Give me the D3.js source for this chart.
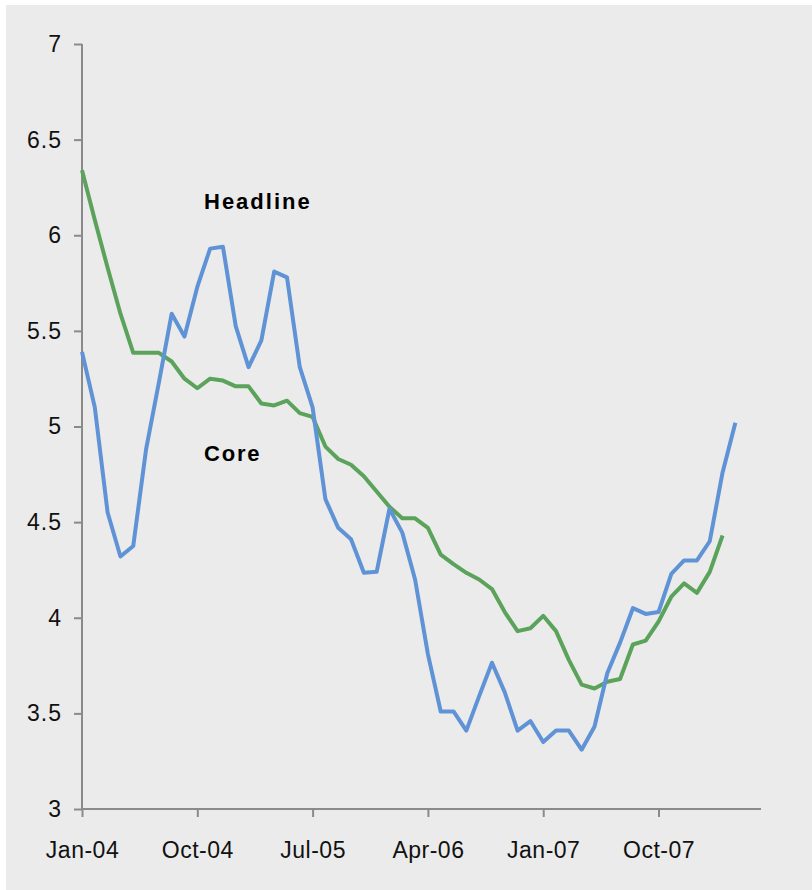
<!DOCTYPE html>
<html><head><meta charset="utf-8">
<script src="https://cdn.jsdelivr.net/npm/d3@7"></script>
<style>html,body{margin:0;padding:0;background:#fff;}svg{display:block;}</style>
</head><body>
<script>
const months = ["Jan-04","Feb-04","Mar-04","Apr-04","May-04","Jun-04","Jul-04","Aug-04","Sep-04","Oct-04","Nov-04","Dec-04",
"Jan-05","Feb-05","Mar-05","Apr-05","May-05","Jun-05","Jul-05","Aug-05","Sep-05","Oct-05","Nov-05","Dec-05",
"Jan-06","Feb-06","Mar-06","Apr-06","May-06","Jun-06","Jul-06","Aug-06","Sep-06","Oct-06","Nov-06","Dec-06",
"Jan-07","Feb-07","Mar-07","Apr-07","May-07","Jun-07","Jul-07","Aug-07","Sep-07","Oct-07","Nov-07","Dec-07",
"Jan-08","Feb-08","Mar-08","Apr-08","May-08","Jun-08"];
const headline = [5.39,5.10,4.55,4.32,4.375,4.88,5.23,5.59,5.47,5.73,5.93,5.94,
5.525,5.31,5.45,5.81,5.78,5.31,5.10,4.62,4.47,4.41,4.235,4.24,
4.57,4.445,4.20,3.81,3.51,3.51,3.41,3.59,3.765,3.61,3.41,3.46,
3.35,3.41,3.41,3.31,3.43,3.71,3.87,4.05,4.02,4.03,4.23,4.30,
4.30,4.40,4.76,5.02];
const core = [6.34,6.08,5.83,5.59,5.385,5.385,5.385,5.34,5.25,5.20,5.25,5.24,
5.21,5.21,5.12,5.11,5.135,5.07,5.05,4.895,4.83,4.80,4.74,4.66,
4.58,4.52,4.52,4.47,4.33,4.28,4.235,4.20,4.15,4.03,3.93,3.945,
4.01,3.93,3.78,3.65,3.63,3.665,3.68,3.86,3.88,3.98,4.11,4.18,
4.13,4.24,4.43];
const yTicks = [3,3.5,4,4.5,5,5.5,6,6.5,7];
const xTickIdx = [0,9,18,27,36,45];
const seriesLabels = ["Headline","Core"];

const W = 812, H = 890;
const svg = d3.select("body").append("svg").attr("width",W).attr("height",H);
svg.append("rect").attr("x",6).attr("y",5).attr("width",W-6).attr("height",H-5).attr("fill","#ebebeb");

const x = d3.scaleLinear().domain([0, months.length-1]).range([82, 761]);
const y = d3.scaleLinear().domain([3,7]).range([809, 44]);

const font = "'Liberation Sans', Arial, sans-serif";
const axisColor = "#8a8a8a";

// Y axis
const yAxis = svg.append("g").attr("transform","translate(82,0)")
  .call(d3.axisLeft(y).tickValues(yTicks).tickSize(8).tickPadding(12)
    .tickFormat(d => Number.isInteger(d) ? d3.format("d")(d) : d3.format(".1f")(d)));
yAxis.select(".domain").attr("stroke",axisColor).attr("stroke-width",2).attr("d","M0,44V809");
yAxis.selectAll(".tick line").attr("stroke",axisColor).attr("stroke-width",2);
yAxis.selectAll(".tick text").attr("font-family",font).attr("font-size",23).attr("fill","#111")
  .attr("letter-spacing","1px");

// X axis
const xAxis = svg.append("g").attr("transform","translate(0,809)")
  .call(d3.axisBottom(x).tickValues(xTickIdx).tickSize(8).tickPadding(25).tickFormat(i => months[i]));
xAxis.select(".domain").attr("stroke",axisColor).attr("stroke-width",2).attr("d","M82,0H761");
xAxis.selectAll(".tick line").attr("stroke",axisColor).attr("stroke-width",2);
xAxis.selectAll(".tick text").attr("font-family",font).attr("font-size",23).attr("fill","#111")
  .attr("letter-spacing","0.5px");

const line = d3.line().x((d,i)=>x(i)).y(d=>y(d));
svg.append("path").datum(core).attr("d",line).attr("fill","none")
  .attr("stroke","#5ba35a").attr("stroke-width",4).attr("stroke-linejoin","round");
svg.append("path").datum(headline).attr("d",line).attr("fill","none")
  .attr("stroke","#5f93d6").attr("stroke-width",4).attr("stroke-linejoin","round");

svg.append("text").attr("x",204).attr("y",209).text(seriesLabels[0])
  .attr("font-family",font).attr("font-weight","bold").attr("font-size",22).attr("letter-spacing","2px").attr("fill","#000");
svg.append("text").attr("x",204).attr("y",461).text(seriesLabels[1])
  .attr("font-family",font).attr("font-weight","bold").attr("font-size",22).attr("letter-spacing","1.8px").attr("fill","#000");
</script>
</body></html>
